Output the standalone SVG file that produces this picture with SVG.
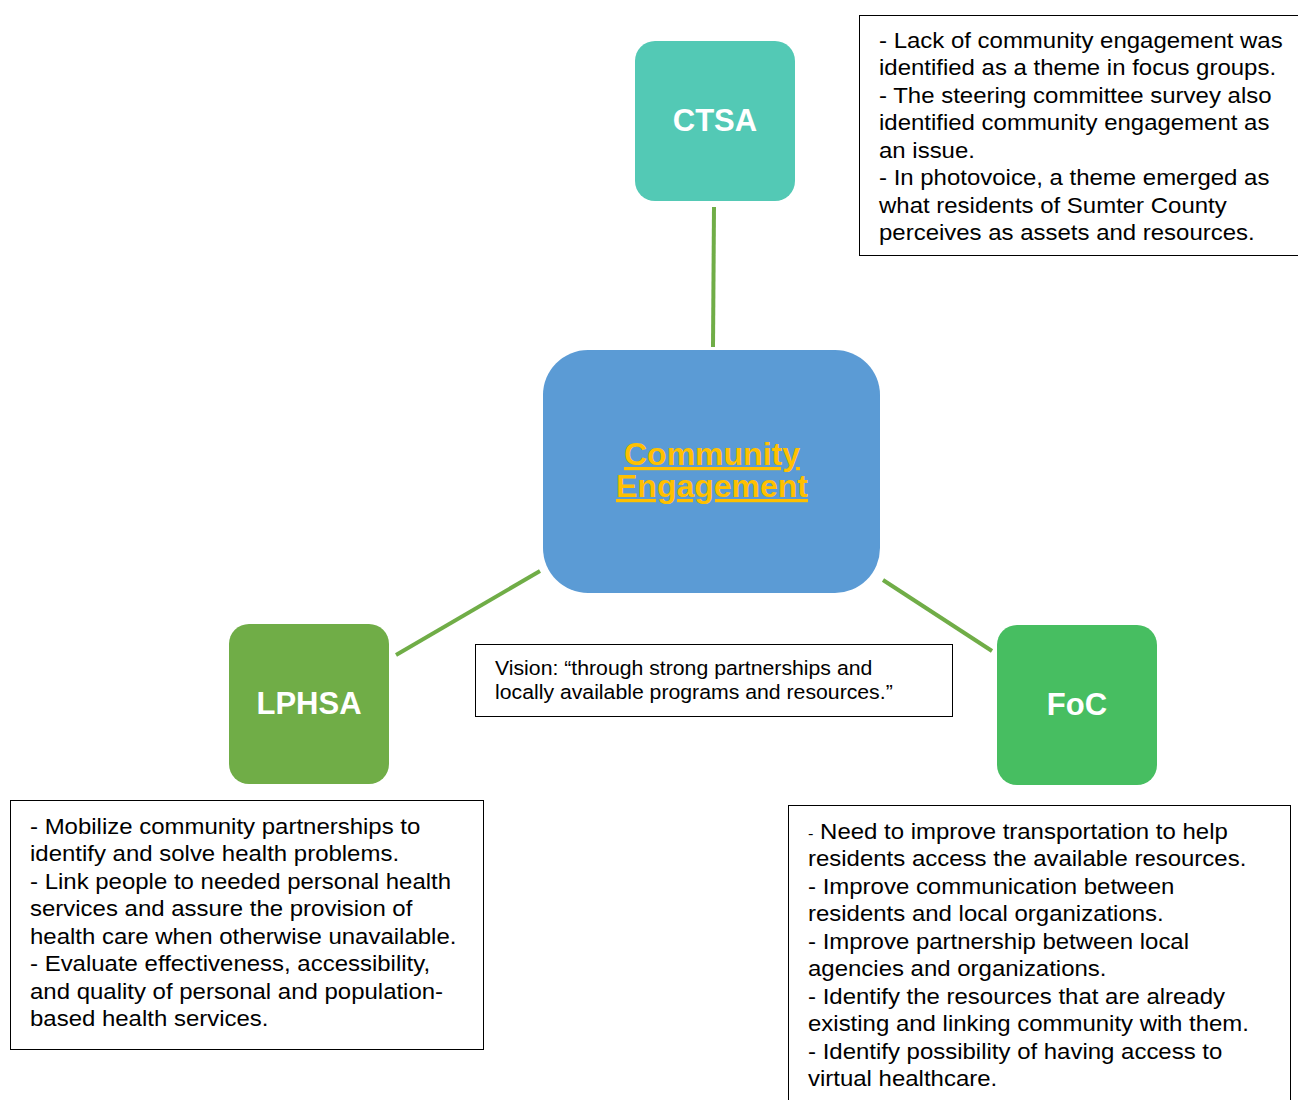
<svg xmlns="http://www.w3.org/2000/svg" width="1298" height="1100" viewBox="0 0 1298 1100">
<style>
.node-t{font-family:"Liberation Sans",Arial,sans-serif;font-weight:bold;font-size:31px;fill:#fff;text-anchor:middle}
.body{font-family:"Liberation Sans",Arial,sans-serif;font-size:22px;fill:#000}
.vis{font-family:"Liberation Sans",Arial,sans-serif;font-size:19.5px;fill:#000}
.box{fill:#fff;stroke:#000;stroke-width:1}
.conn{stroke:#70AD47;stroke-width:4;fill:none}
.title{font-family:"Liberation Sans",Arial,sans-serif;font-weight:bold;font-size:32px;fill:#FFC000;text-anchor:middle;text-decoration:underline}
</style>
<rect width="1298" height="1100" fill="#fff"/>
<g id="connectors">
<line class="conn" x1="714" y1="207" x2="713" y2="347"/>
<line class="conn" x1="396" y1="655" x2="540" y2="571"/>
<line class="conn" x1="883" y1="580" x2="992" y2="651"/>
</g>
<g id="ctsa">
<rect x="635" y="41" width="160" height="160" rx="20" fill="#53C9B5"/>
<text class="node-t" x="715" y="131">CTSA</text>
</g>
<g id="community-engagement">
<rect x="543" y="350" width="337" height="243" rx="45" fill="#5B9BD5"/>
<text class="title" x="712" y="465">Community</text>
<text class="title" x="712" y="497">Engagement</text>
</g>
<g id="lphsa">
<rect x="229" y="624" width="160" height="160" rx="20" fill="#70AD47"/>
<text class="node-t" x="309" y="714">LPHSA</text>
</g>
<g id="foc">
<rect x="997" y="625" width="160" height="160" rx="20" fill="#47BE61"/>
<text class="node-t" x="1077" y="715">FoC</text>
</g>
<g id="ctsa-notes">
<rect class="box" x="859.500" y="15.500" width="445" height="240"/>
<text class="body" transform="translate(879,0) scale(1.09,1)">
<tspan x="0" y="48">- Lack of community engagement was</tspan>
<tspan x="0" y="75.500">identified as a theme in focus groups.</tspan>
<tspan x="0" y="103">- The steering committee survey also</tspan>
<tspan x="0" y="130.500">identified community engagement as</tspan>
<tspan x="0" y="158">an issue.</tspan>
<tspan x="0" y="185.500">- In photovoice, a theme emerged as</tspan>
<tspan x="0" y="213">what residents of Sumter County</tspan>
<tspan x="0" y="240.500">perceives as assets and resources.</tspan>
</text>
</g>
<g id="vision">
<rect class="box" x="475.500" y="644.500" width="477" height="72"/>
<text class="vis" transform="translate(495,0) scale(1.09,1)">
<tspan x="0" y="675">Vision: “through strong partnerships and</tspan>
<tspan x="0" y="699">locally available programs and resources.”</tspan>
</text>
</g>
<g id="lphsa-notes">
<rect class="box" x="10.500" y="800.500" width="473" height="249"/>
<text class="body" transform="translate(30,0) scale(1.09,1)">
<tspan x="0" y="834">- Mobilize community partnerships to</tspan>
<tspan x="0" y="861.500">identify and solve health problems.</tspan>
<tspan x="0" y="889">- Link people to needed personal health</tspan>
<tspan x="0" y="916.500">services and assure the provision of</tspan>
<tspan x="0" y="944">health care when otherwise unavailable.</tspan>
<tspan x="0" y="971.500">- Evaluate effectiveness, accessibility,</tspan>
<tspan x="0" y="999">and quality of personal and population-</tspan>
<tspan x="0" y="1026.500">based health services.</tspan>
</text>
</g>
<g id="foc-notes">
<rect class="box" x="788.500" y="805.500" width="502" height="310"/>
<text class="body" transform="translate(808,0) scale(1.09,1)">
<tspan x="0" y="839"><tspan font-size="15">-</tspan> Need to improve transportation to help</tspan>
<tspan x="0" y="866.500">residents access the available resources.</tspan>
<tspan x="0" y="894">- Improve communication between</tspan>
<tspan x="0" y="921.500">residents and local organizations.</tspan>
<tspan x="0" y="949">- Improve partnership between local</tspan>
<tspan x="0" y="976.500">agencies and organizations.</tspan>
<tspan x="0" y="1004">- Identify the resources that are already</tspan>
<tspan x="0" y="1031.500">existing and linking community with them.</tspan>
<tspan x="0" y="1059">- Identify possibility of having access to</tspan>
<tspan x="0" y="1086.500">virtual healthcare.</tspan>
</text>
</g>
</svg>
